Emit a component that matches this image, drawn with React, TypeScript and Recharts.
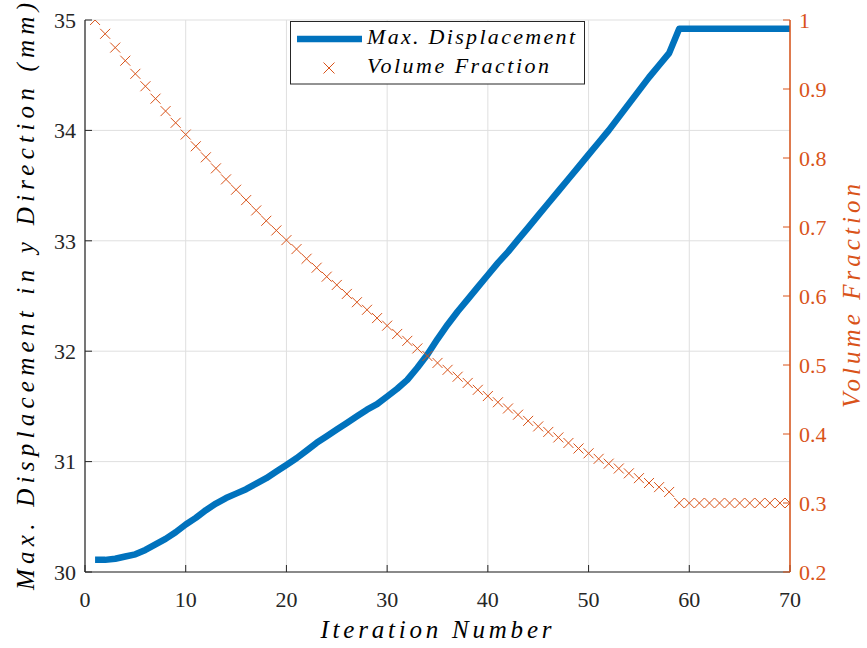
import React from 'react';
import { ComposedChart, Line, XAxis, YAxis, CartesianGrid, Legend } from 'recharts';

const iterations = [
  1, 2, 3, 4, 5, 6, 7, 8, 9, 10, 11, 12, 13, 14, 15, 16, 17, 18, 19, 20,
  21, 22, 23, 24, 25, 26, 27, 28, 29, 30, 31, 32, 33, 34, 35, 36, 37, 38, 39, 40,
  41, 42, 43, 44, 45, 46, 47, 48, 49, 50, 51, 52, 53, 54, 55, 56, 57, 58, 59, 60,
  61, 62, 63, 64, 65, 66, 67, 68, 69, 70,
];

const maxDisplacement = [
  30.11, 30.11, 30.12, 30.14, 30.16, 30.2, 30.25, 30.3, 30.36, 30.43,
  30.49, 30.56, 30.62, 30.67, 30.71, 30.75, 30.8, 30.85, 30.91, 30.97,
  31.03, 31.1, 31.17, 31.23, 31.29, 31.35, 31.41, 31.47, 31.52, 31.59,
  31.66, 31.74, 31.85, 31.97, 32.11, 32.24, 32.36, 32.47, 32.58, 32.69,
  32.8, 32.9, 33.01, 33.12, 33.23, 33.34, 33.45, 33.56, 33.67, 33.78,
  33.89, 34.0, 34.12, 34.24, 34.36, 34.48, 34.59, 34.7, 34.92, 34.92,
  34.92, 34.92, 34.92, 34.92, 34.92, 34.92, 34.92, 34.92, 34.92, 34.92,
];

const volumeFraction = [
  1.0, 0.98, 0.96, 0.941, 0.922, 0.904, 0.886, 0.868, 0.851, 0.834,
  0.817, 0.801, 0.785, 0.769, 0.754, 0.739, 0.724, 0.709, 0.695, 0.681,
  0.668, 0.654, 0.641, 0.628, 0.616, 0.603, 0.591, 0.58, 0.568, 0.557,
  0.545, 0.535, 0.524, 0.513, 0.503, 0.493, 0.483, 0.474, 0.464, 0.455,
  0.446, 0.437, 0.428, 0.419, 0.411, 0.403, 0.395, 0.387, 0.379, 0.372,
  0.364, 0.357, 0.35, 0.343, 0.336, 0.329, 0.323, 0.316, 0.3, 0.3,
  0.3, 0.3, 0.3, 0.3, 0.3, 0.3, 0.3, 0.3, 0.3, 0.3,
];

const xTicks = [0, 10, 20, 30, 40, 50, 60, 70];
const leftTicks = [30, 31, 32, 33, 34, 35];
const rightTicks = [0.2, 0.3, 0.4, 0.5, 0.6, 0.7, 0.8, 0.9, 1];

const seriesNames = ['Max. Displacement', 'Volume Fraction'];
const axisTitles = ['Iteration Number', 'Max. Displacement in y Direction (mm)', 'Volume Fraction'];

const BLUE = '#0072BD';
const ORANGE = '#D95319';
const AXIS = '#262626';
const FONT = 'Liberation Serif';

const data = iterations.map((it, i) => ({
  it,
  disp: maxDisplacement[i],
  vol: volumeFraction[i],
}));

const CrossDot = (props: any) => {
  const { cx, cy, index } = props;
  if (cx == null || cy == null) return <g key={`d${index}`} />;
  const s = 5;
  return (
    <path
      key={`d${index}`}
      d={`M${cx - s},${cy - s}L${cx + s},${cy + s}M${cx - s},${cy + s}L${cx + s},${cy - s}`}
      stroke={ORANGE}
      strokeWidth={1}
      fill="none"
    />
  );
};

const LegendBox = () => (
  <svg width={296} height={65} style={{ display: 'block', overflow: 'visible' }}>
    <rect x={0.5} y={0.5} width={294} height={62.5} fill="#ffffff" stroke={AXIS} strokeWidth={1} />
    <line x1={7} x2={72} y1={18} y2={18} stroke={BLUE} strokeWidth={6.5} />
    <text
      x={77}
      y={23.3}
      fontFamily={FONT}
      fontStyle="italic"
      fontSize={22}
      fill="#000"
      textLength={208}
      lengthAdjust="spacing"
    >
      {seriesNames[0]}
    </text>
    <path d="M33.5,41.5L44.5,52.5M33.5,52.5L44.5,41.5" stroke={ORANGE} strokeWidth={1} fill="none" />
    <text
      x={77}
      y={52.3}
      fontFamily={FONT}
      fontStyle="italic"
      fontSize={22}
      fill="#000"
      textLength={182}
      lengthAdjust="spacing"
    >
      {seriesNames[1]}
    </text>
  </svg>
);

export default function App() {
  return (
    <div style={{ position: 'absolute', left: 0, top: 0, width: 867, height: 648, background: '#fff' }}>
      <ComposedChart
        width={867}
        height={648}
        data={data}
        margin={{ top: 20, right: 0, bottom: 0, left: 0 }}
      >
        <CartesianGrid yAxisId="left" stroke="#dfdfdf" strokeWidth={1} />
        <XAxis
          dataKey="it"
          type="number"
          domain={[0, 70]}
          ticks={xTicks}
          interval={0}
          height={76}
          tickSize={-7}
          tickMargin={26}
          axisLine={{ stroke: AXIS, strokeWidth: 1.2 }}
          tickLine={{ stroke: AXIS, strokeWidth: 1 }}
          tick={{ fill: AXIS, fontSize: 22, fontFamily: FONT }}
          allowDataOverflow
        />
        <YAxis
          yAxisId="left"
          orientation="left"
          type="number"
          domain={[30, 35]}
          ticks={leftTicks}
          interval={0}
          width={85}
          tickSize={-7}
          tickMargin={16}
          axisLine={{ stroke: AXIS, strokeWidth: 1.2 }}
          tickLine={{ stroke: AXIS, strokeWidth: 1 }}
          tick={{ fill: AXIS, fontSize: 22, fontFamily: FONT }}
          allowDataOverflow
        />
        <YAxis
          yAxisId="right"
          orientation="right"
          type="number"
          domain={[0.2, 1]}
          ticks={rightTicks}
          interval={0}
          width={77}
          tickSize={-7}
          tickMargin={16}
          axisLine={{ stroke: ORANGE, strokeWidth: 1.5 }}
          tickLine={{ stroke: ORANGE, strokeWidth: 1 }}
          tick={{ fill: ORANGE, fontSize: 22, fontFamily: FONT }}
          allowDataOverflow
        />
        <Legend
          layout="horizontal"
          verticalAlign="middle"
          align="center"
          wrapperStyle={{ left: 290, top: 21, width: 296, height: 65 }}
          content={() => <LegendBox />}
        />
        <Line
          yAxisId="left"
          dataKey="disp"
          name={seriesNames[0]}
          type="linear"
          stroke={BLUE}
          strokeWidth={6.5}
          strokeLinejoin="round"
          dot={false}
          activeDot={false}
          isAnimationActive={false}
        />
        <Line
          yAxisId="right"
          dataKey="vol"
          name={seriesNames[1]}
          type="linear"
          stroke="none"
          dot={CrossDot}
          activeDot={false}
          isAnimationActive={false}
        />
      </ComposedChart>
      <svg
        width={867}
        height={648}
        style={{ position: 'absolute', left: 0, top: 0, pointerEvents: 'none' }}
      >
        <text
          x={436}
          y={638}
          textAnchor="middle"
          fontFamily={FONT}
          fontStyle="italic"
          fontSize={25}
          fill="#000"
          textLength={231}
          lengthAdjust="spacing"
        >
          {axisTitles[0]}
        </text>
        <text
          transform="translate(34,296.5) rotate(-90)"
          textAnchor="middle"
          fontFamily={FONT}
          fontStyle="italic"
          fontSize={25}
          fill="#000"
          textLength={587}
          lengthAdjust="spacing"
        >
          {axisTitles[1]}
        </text>
        <text
          transform="translate(860,296) rotate(-90)"
          textAnchor="middle"
          fontFamily={FONT}
          fontStyle="italic"
          fontSize={25}
          fill={ORANGE}
          textLength={224}
          lengthAdjust="spacing"
        >
          {axisTitles[2]}
        </text>
      </svg>
    </div>
  );
}
